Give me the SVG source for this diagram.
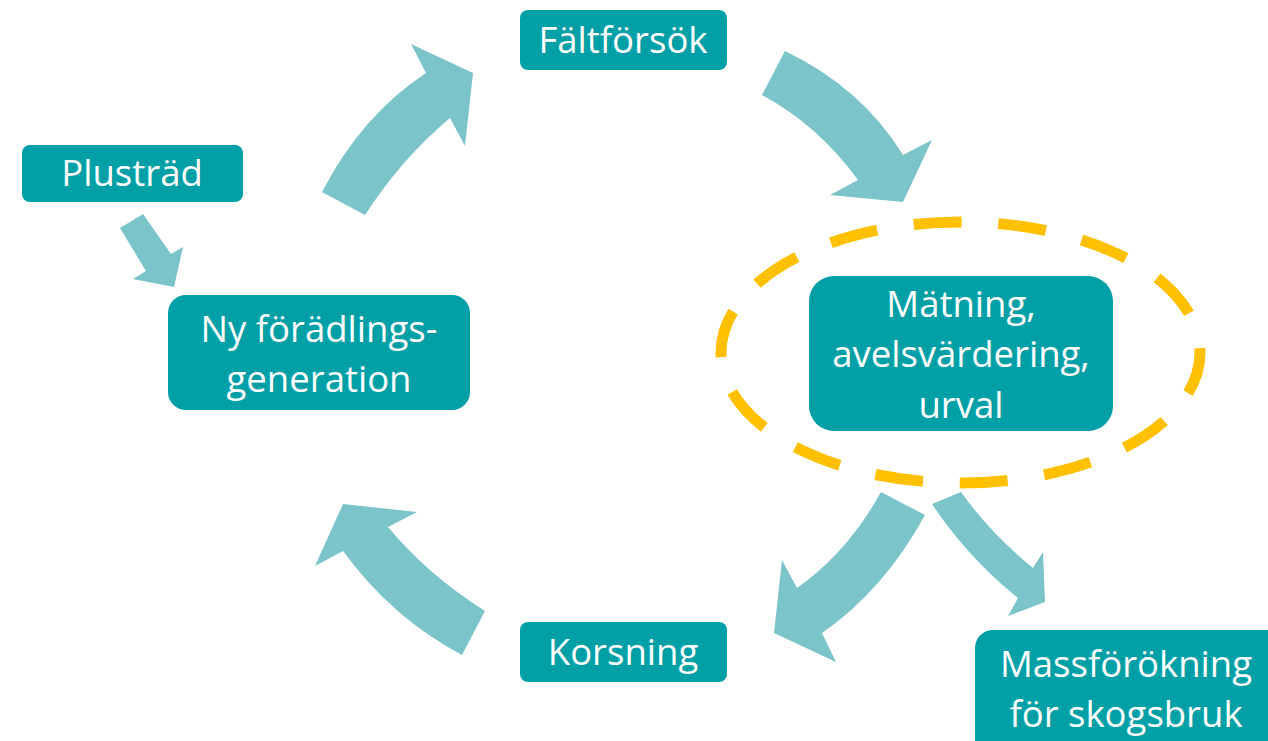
<svg xmlns="http://www.w3.org/2000/svg" width="1268" height="741" viewBox="0 0 1268 741">
<style>
.box{fill:#00A0A6}
.arr{fill:#7BC4CA}
.t{font-family:"Open Sans","Noto Sans",sans-serif;font-size:36.5px;fill:#fff;text-anchor:middle}
</style>
<rect width="1268" height="741" fill="#fff"/>
<g id="connectors">
<polygon class="arr" points="120,228 143,214 171,254 183,247 174,287 133,279 146,271"/>
<path class="arr" d="M322,192 Q362,115 426,73 L411,44 L473,73 L465,146 L450,118 Q402,158 365,215 Z"/>
<path class="arr" d="M785,51 Q862,88 903,155 L932,140 L903,202 L830,195 L858,180 Q818,125 762,95 Z"/>
<path class="arr" d="M925,515 Q884,590 822,633 L836,662 L774,633 L782,560 L797,588 Q848,552 881,492 Z"/>
<path class="arr" d="M961,492 Q992,535 1033,568 L1043,552 L1045,602 L1008,616 L1018,598 Q968,558 932,504 Z"/>
<path class="arr" d="M485,611 Q428,575 388,527 L417,512 L343,504 L315,566 L343,551 Q392,618 462,655 Z"/>
</g>
<g id="highlight">
<ellipse cx="960.5" cy="352.5" rx="239.5" ry="130.5" fill="none" stroke="#FFC000" stroke-width="11" stroke-dasharray="48 36.85" stroke-dashoffset="5"/>
</g>
<g id="faltforsok">
<rect class="box" x="520" y="10" width="207" height="60" rx="8"/>
<text class="t" x="623" y="53">Fältförsök</text>
</g>
<g id="plustrad">
<rect class="box" x="22" y="145" width="221" height="57" rx="8"/>
<text class="t" x="132" y="186">Plusträd</text>
</g>
<g id="ny">
<rect class="box" x="168" y="295" width="302" height="115" rx="18"/>
<text class="t" x="319" y="341.5">Ny förädlings-</text>
<text class="t" x="319" y="391.5">generation</text>
</g>
<g id="matning">
<rect class="box" x="809" y="276" width="304" height="155" rx="25"/>
<text class="t" x="961" y="317">Mätning,</text>
<text class="t" x="961" y="367">avelsvärdering,</text>
<text class="t" x="961" y="418">urval</text>
</g>
<g id="korsning">
<rect class="box" x="520" y="622" width="207" height="60" rx="8"/>
<text class="t" x="623" y="665">Korsning</text>
</g>
<g id="massforokning">
<rect class="box" x="975" y="630" width="310" height="130" rx="18"/>
<text class="t" x="1126" y="676.5">Massförökning</text>
<text class="t" x="1126" y="726.5">för skogsbruk</text>
</g>
</svg>
